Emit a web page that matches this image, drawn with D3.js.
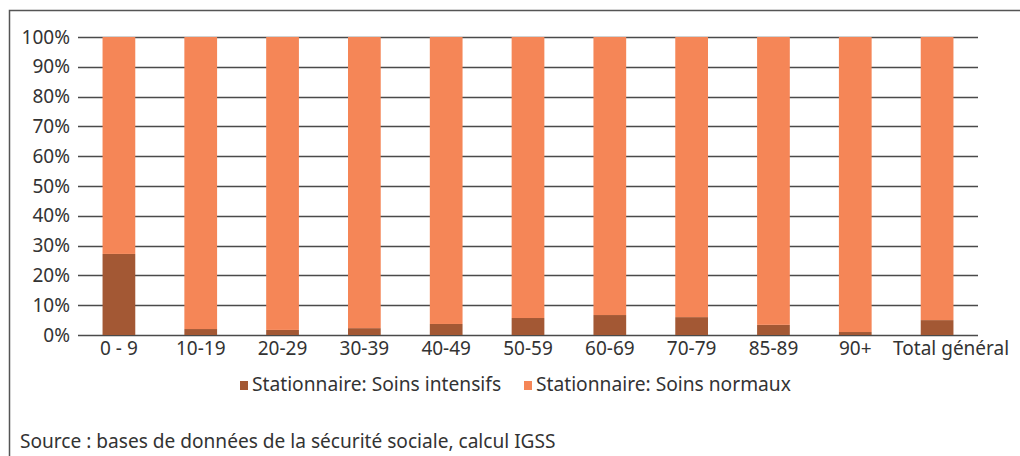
<!DOCTYPE html>
<html>
<head>
<meta charset="utf-8">
<script src="https://cdn.jsdelivr.net/npm/d3@7"></script>
<style>
  html, body { margin: 0; padding: 0; background: #fff; }
  svg { display: block; font-family: "Noto Sans", "Open Sans", sans-serif; }
</style>
</head>
<body>
<svg id="chart" width="1020" height="456"></svg>
<script>
// Age groups and the share of inpatient stays by care type
const categories = ["0 - 9", "10-19", "20-29", "30-39", "40-49", "50-59", "60-69", "70-79", "85-89", "90+", "Total général"];
const intensive = [27.2, 2.0, 1.7, 2.3, 3.7, 5.7, 6.7, 6.0, 3.4, 1.0, 5.0];
const normal = intensive.map(v => 100 - v);
const yTicks = [0, 10, 20, 30, 40, 50, 60, 70, 80, 90, 100];
const seriesNames = ["Stationnaire: Soins intensifs", "Stationnaire: Soins normaux"];
const colors = ["#a35834", "#f58657"];

const svg = d3.select("#chart");
const margin = { left: 78, right: 42, top: 37, bottom: 121 };
const W = 1020, H = 456;
const font = "Noto Sans, Open Sans, sans-serif";

// outer frame
svg.append("rect")
  .attr("x", 9.5).attr("y", 10.5)
  .attr("width", 1020).attr("height", 460)
  .attr("fill", "none").attr("stroke", "#555").attr("stroke-width", 1.5);

const x = d3.scaleBand()
  .domain(categories)
  .range([margin.left, W - margin.right])
  .paddingInner(0.6).paddingOuter(0.3);

const y = d3.scaleLinear().domain([0, 100]).range([H - margin.bottom, margin.top]);

// gridlines
svg.append("g")
  .selectAll("line")
  .data(yTicks)
  .join("line")
  .attr("x1", margin.left).attr("x2", W - margin.right)
  .attr("y1", d => Math.round(y(d)) + 0.5).attr("y2", d => Math.round(y(d)) + 0.5)
  .attr("stroke", "#4a4a4a").attr("stroke-width", 1.4);

// stacked bars
const rows = categories.map((c, i) => ({ cat: c, intensive: intensive[i], normal: normal[i] }));
const stack = d3.stack().keys(["intensive", "normal"])(rows);

svg.append("g")
  .selectAll("g")
  .data(stack)
  .join("g")
  .attr("fill", (d, i) => colors[i])
  .selectAll("rect")
  .data(d => d)
  .join("rect")
  .attr("x", d => x(d.data.cat))
  .attr("width", x.bandwidth())
  .attr("y", d => y(d[1]))
  .attr("height", d => y(d[0]) - y(d[1]));

// y axis labels
const yAxis = d3.axisLeft(y).tickValues(yTicks).tickFormat(d => d + "%").tickSize(0).tickPadding(8);
const yg = svg.append("g").attr("transform", `translate(${margin.left},0)`).call(yAxis);
yg.select(".domain").remove();
yg.selectAll("text").attr("font-size", 19).attr("fill", "#333").attr("font-family", font);

// x axis labels; the wide last label is nudged right so it clears its neighbour
const xAxis = d3.axisBottom(x).tickSize(0).tickPadding(7);
const xg = svg.append("g").attr("transform", `translate(0,${H - margin.bottom})`).call(xAxis);
xg.select(".domain").remove();
xg.selectAll("text").attr("font-size", 19).attr("fill", "#333").attr("font-family", font)
  .attr("dx", (d, i, n) => i === n.length - 1 ? 14 : 0);

// legend
const legendX = [240, 524];
const legend = svg.append("g");
seriesNames.forEach((name, i) => {
  legend.append("rect")
    .attr("x", legendX[i]).attr("y", 381)
    .attr("width", 8).attr("height", 9)
    .attr("fill", colors[i]);
  legend.append("text")
    .attr("x", legendX[i] + 12).attr("y", 391)
    .attr("font-size", 19.2).attr("fill", "#333").attr("font-family", font)
    .text(name);
});

// source note
svg.append("text")
  .attr("x", 20).attr("y", 447.5)
  .attr("font-size", 19.1).attr("fill", "#333").attr("font-family", font)
  .text("Source : bases de données de la sécurité sociale, calcul IGSS");
</script>
</body>
</html>
